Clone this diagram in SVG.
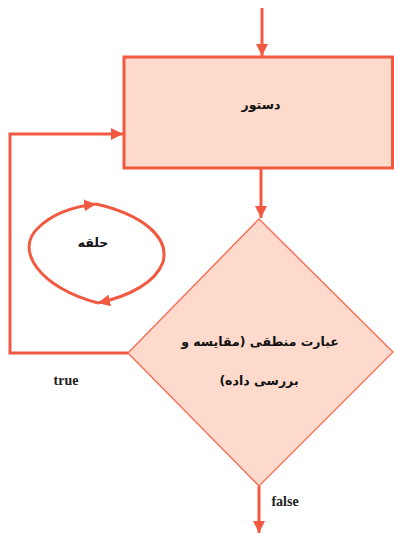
<svg xmlns="http://www.w3.org/2000/svg" width="394" height="533" viewBox="0 0 394 533">
<style>
.ln{fill:none;stroke:#F15A40;stroke-width:3}
.fa{font-family:"DejaVu Sans",sans-serif;font-weight:bold;font-size:12.5px;fill:#111;text-anchor:middle}
.fl{font-family:"Liberation Serif",serif;font-weight:bold;font-size:14px;fill:#222;text-anchor:middle}
</style>
<defs>
<marker id="ah" viewBox="0 0 10 10" refX="10" refY="5" markerWidth="4" markerHeight="4" markerUnits="strokeWidth" orient="auto">
<path d="M0,0 L10,5 L0,10 z" fill="#F15A40"/>
</marker>
</defs>
<rect width="394" height="533" fill="#fff"/>
<g id="connectors">
<line class="ln" x1="262" y1="8" x2="262" y2="56" marker-end="url(#ah)"/>
<line class="ln" x1="261" y1="168" x2="261" y2="218" marker-end="url(#ah)"/>
<path class="ln" d="M128,353 H10 V134 H123" marker-end="url(#ah)"/>
<line class="ln" x1="259" y1="486" x2="259" y2="533" marker-end="url(#ah)"/>
</g>
<g id="n-statement">
<rect x="124" y="57" width="268.5" height="111" fill="#FDDACB" stroke="#F15A40" stroke-width="3"/>
<text class="fa" x="261" y="109" direction="rtl">دستور</text>
</g>
<g id="n-condition">
<polygon points="259,219 393,352 259,486 128,353" fill="#FDDACB" stroke="#F5735C" stroke-width="1.5"/>
<text class="fa" x="260" y="346" direction="rtl">عبارت منطقی (مقایسه و</text>
<text class="fa" x="259" y="385" direction="rtl">بررسی داده)</text>
</g>
<g id="n-loop">
<path class="ln" d="M98,303 C40,288 14,250 38,228 C52,214 70,207 96,204" marker-end="url(#ah)"/>
<path class="ln" d="M96,204 C140,214 170,236 163,262 C156,282 130,296 98,303" marker-end="url(#ah)"/>
<text class="fa" x="93" y="247" direction="rtl">حلقه</text>
</g>
<g id="labels">
<text class="fl" x="66" y="385">true</text>
<text class="fl" x="285" y="506">false</text>
</g>
</svg>
